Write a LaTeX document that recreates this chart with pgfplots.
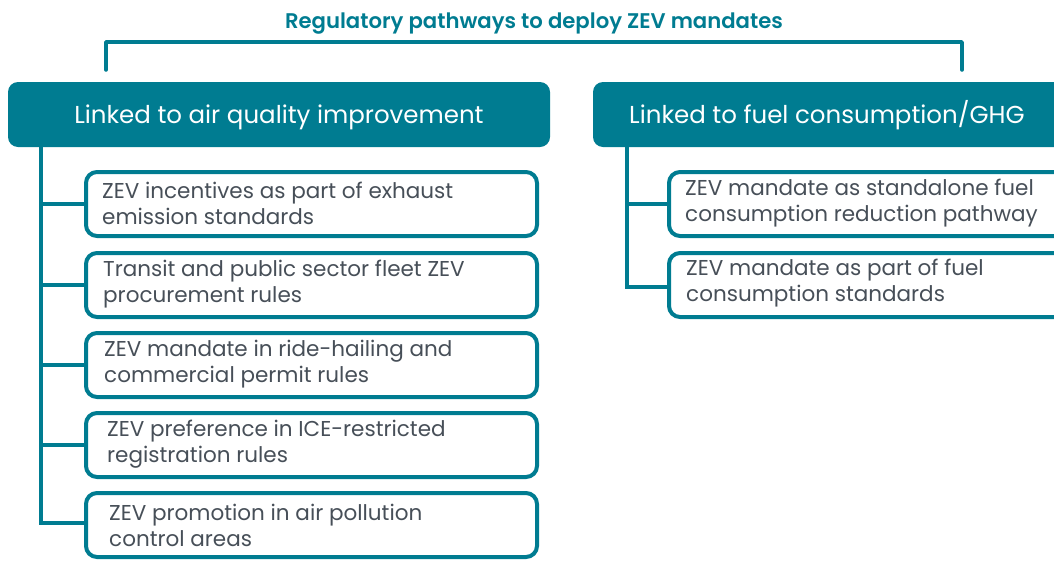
\documentclass[border=0pt]{standalone}
\usepackage{pgfplots}
\pgfplotsset{compat=1.18}
\usepackage{fontspec}
\setmainfont{Poppins}
\newfontfamily\semib{Poppins SemiBold}
\definecolor{zteal}{HTML}{007C91}
\definecolor{ztext}{HTML}{474F58}
\begin{document}
\begin{tikzpicture}
\useasboundingbox (0,0) rectangle (1054pt,560pt);
\clip (0,0) rectangle (1054pt,560pt);
\begin{axis}[scale only axis, width=1054pt, height=560pt,
  xmin=0, xmax=1054, ymin=0, ymax=560, y dir=reverse, hide axis, clip=false]
% title and bracket
\node[font=\semib\fontsize{21.2}{22}\selectfont, text=zteal, inner sep=0, anchor=base] at (axis cs:534,28) {Regulatory pathways to deploy ZEV mandates};
\addplot[zteal, line width=3.5pt, line cap=round, line join=round] coordinates {(106,70) (106,42) (962,42) (962,70)};
% header boxes
\fill[zteal, rounded corners=10pt] (axis cs:8,82) rectangle (axis cs:550,147);
\fill[zteal, rounded corners=10pt] (axis cs:593,82) rectangle (axis cs:1080,147);
\node[font=\fontsize{24.5}{26}\selectfont, text=white, inner sep=0, anchor=base] at (axis cs:279,123) {Linked to air quality improvement};
\node[font=\fontsize{24.5}{26}\selectfont, text=white, inner sep=0, anchor=base west] at (axis cs:629,123) {Linked to fuel consumption/GHG};
% trunks and branches (left)
\addplot[zteal, line width=4pt, line join=miter] coordinates {(41,147) (41,523) (86,523)};
\addplot[zteal, line width=4pt] coordinates {(41,204) (86,204)};
\addplot[zteal, line width=4pt] coordinates {(41,285) (86,285)};
\addplot[zteal, line width=4pt] coordinates {(41,365) (86,365)};
\addplot[zteal, line width=4pt] coordinates {(41,445) (86,445)};
% trunks and branches (right)
\addplot[zteal, line width=4pt, line join=miter] coordinates {(627,147) (627,287) (669,287)};
\addplot[zteal, line width=4pt] coordinates {(627,204) (669,204)};
% child boxes left
\draw[zteal, line width=4pt, fill=white, rounded corners=11pt] (axis cs:86,172) rectangle (axis cs:537,236);
\draw[zteal, line width=4pt, fill=white, rounded corners=11pt] (axis cs:86,253) rectangle (axis cs:537,317);
\draw[zteal, line width=4pt, fill=white, rounded corners=11pt] (axis cs:86,333) rectangle (axis cs:537,397);
\draw[zteal, line width=4pt, fill=white, rounded corners=11pt] (axis cs:86,413) rectangle (axis cs:537,477);
\draw[zteal, line width=4pt, fill=white, rounded corners=11pt] (axis cs:86,493) rectangle (axis cs:537,557);
% child boxes right
\draw[zteal, line width=4pt, fill=white, rounded corners=11pt] (axis cs:669,172) rectangle (axis cs:1080,236);
\draw[zteal, line width=4pt, fill=white, rounded corners=11pt] (axis cs:669,253) rectangle (axis cs:1080,317);
% texts
\tikzset{body/.style={anchor=west, align=left, inner sep=0, text=ztext, font=\fontsize{21.5}{26}\selectfont}}
\node[body] at (axis cs:102,203) {ZEV incentives as part of exhaust\\emission standards};
\node[body] at (axis cs:103,284) {Transit and public sector fleet ZEV\\procurement rules};
\node[body] at (axis cs:104,364) {ZEV mandate in ride-hailing and\\commercial permit rules};
\node[body] at (axis cs:107,444) {ZEV preference in ICE-restricted\\registration rules};
\node[body] at (axis cs:109,525) {ZEV promotion in air pollution\\control areas};
\node[body] at (axis cs:685,203) {ZEV mandate as standalone fuel\\consumption reduction pathway};
\node[body] at (axis cs:686,283) {ZEV mandate as part of fuel\\consumption standards};
\end{axis}
\end{tikzpicture}
\end{document}
